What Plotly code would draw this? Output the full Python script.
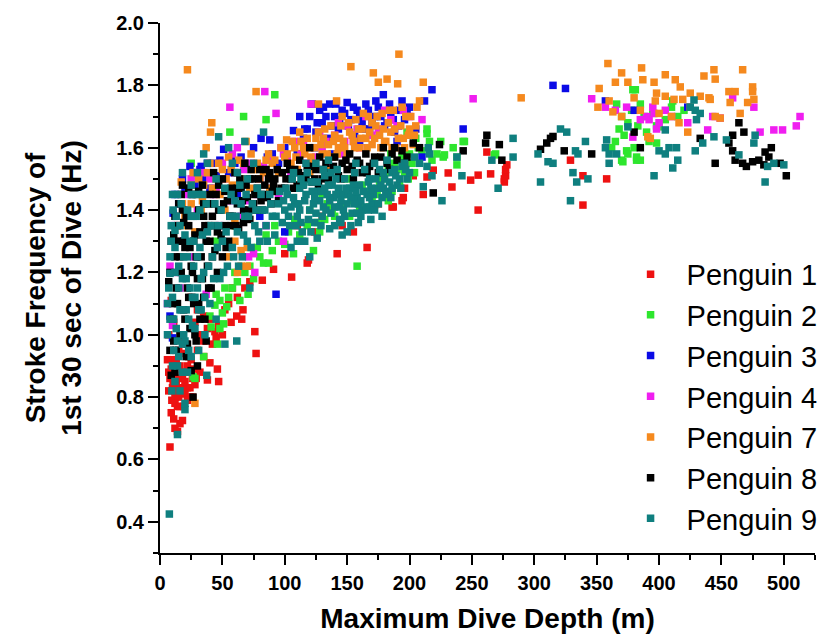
import plotly.graph_objects as go

# values (depth in m, stroke freq in Hz)
p1_depth = [8, 12, 14, 16, 18, 14, 9.5, 13.5, 18, 22, 28, 10.5, 9, 10.5, 12, 15, 17, 20, 24, 11,
            16, 20, 26, 7, 8, 13, 22, 19, 6, 9, 7, 11, 25, 30, 28, 33, 35, 38, 40, 46,
            38, 47, 42, 45, 44, 40, 47, 57, 61.5, 65.5, 66.5, 76, 77, 52, 58, 68, 82, 91, 105.5, 118,
            119, 124, 142, 146, 166, 175, 186, 195, 196, 203, 187, 194, 211, 214, 219, 231, 234, 249, 255, 255,
            262, 265, 276, 277, 277, 278, 276, 329, 339, 339, 358, 30, 25, 35, 50, 55, 62, 72, 100, 130,
            155, 110, 35, 32,
            10, 12, 14, 16, 18, 20, 22, 24, 26, 9, 11, 7, 13, 15, 17, 19, 21, 27, 29, 23]
p1_freq = [0.64, 0.70, 0.69, 0.715, 0.725, 0.77, 0.79, 0.82, 0.83, 0.83, 0.84, 0.85, 0.89, 0.92, 0.80, 0.80, 0.86, 0.81, 0.80, 0.87,
           0.90, 0.88, 0.86, 0.82, 0.86, 0.84, 0.79, 0.77, 0.92, 1.11, 1.00, 1.04, 0.92, 0.95, 1.04, 1.00, 0.98, 1.02, 0.91, 0.89,
           0.855, 0.85, 0.97, 0.99, 1.01, 1.05, 1.03, 1.04, 1.06, 1.05, 1.08, 1.01, 0.94, 1.08, 1.15, 1.15, 1.175, 1.21, 1.185, 1.23,
           1.24, 1.33, 1.26, 1.35, 1.28, 1.42, 1.41, 1.44, 1.47, 1.51, 1.41, 1.43, 1.45, 1.506, 1.528, 1.519, 1.474, 1.496, 1.512, 1.40,
           1.586, 1.516, 1.49, 1.51, 1.53, 1.545, 1.50, 1.56, 1.51, 1.416, 1.50, 1.08, 1.12, 1.06, 1.00, 1.10, 1.12, 1.17, 1.26, 1.38,
           1.33, 1.35, 0.93, 0.88,
           0.83, 0.78, 0.86, 0.77, 0.87, 0.85, 0.90, 0.83, 0.80, 0.75, 0.73, 0.88, 0.92, 0.95, 0.99, 0.94, 0.97, 0.89, 0.86, 0.93]

p2_depth = [26.5, 28, 35, 40, 41, 44, 48, 48, 51, 53.5, 46, 50, 55, 58, 62, 64, 70.6, 68, 75, 80,
            83, 87, 90, 95, 100, 107, 112, 118, 123, 128, 132, 138, 145, 152, 158, 160, 165, 170, 174, 178,
            183, 183, 188, 192, 196, 198, 200, 204, 207, 214, 214, 218, 225, 227, 228, 238, 238, 243, 244, 268,
            269, 130, 150, 185, 205, 56, 67, 85, 92, 25, 60, 45,
            362, 365, 366, 368, 370, 370, 371, 372, 374, 375, 375, 378, 379, 380, 381, 382, 382, 383, 385, 385,
            388, 390, 392, 395, 398, 398, 400, 405, 410, 411, 415, 420,
            103, 108, 114, 120, 126, 134, 140, 147, 155, 162, 168, 176, 181, 186, 190, 194, 199, 202, 210, 216,
            222, 235, 60, 72, 78, 85, 92, 52, 45]
p2_freq = [0.865, 0.86, 0.93, 1.06, 1.025, 1.095, 1.11, 1.02, 1.035, 1.09, 0.97, 1.07, 1.12, 1.15, 1.17, 1.11, 1.13, 1.20, 1.18, 1.25,
           1.23, 1.23, 1.27, 1.30, 1.29, 1.26, 1.32, 1.35, 1.27, 1.33, 1.37, 1.40, 1.42, 1.38, 1.22, 1.41, 1.46, 1.44, 1.45, 1.50,
           1.43, 1.53, 1.55, 1.48, 1.52, 1.65, 1.58, 1.52, 1.60, 1.66, 1.645, 1.56, 1.62, 1.57, 1.577, 1.57, 1.545, 1.62, 1.62, 1.577,
           1.58, 1.45, 1.50, 1.58, 1.63, 1.65, 1.70, 1.69, 1.77, 1.55, 1.35, 1.30,
           1.60, 1.62, 1.74, 1.66, 1.56, 1.70, 1.555, 1.64, 1.59, 1.68, 1.58, 1.72, 1.786, 1.60, 1.786, 1.56, 1.57, 1.67, 1.74, 1.56,
           1.70, 1.65, 1.62, 1.71, 1.615, 1.67, 1.667, 1.69, 1.73, 1.75, 1.70, 1.72,
           1.33, 1.37, 1.30, 1.40, 1.36, 1.42, 1.38, 1.45, 1.43, 1.48, 1.41, 1.48, 1.52, 1.46, 1.53, 1.57, 1.50, 1.55, 1.59, 1.62,
           1.58, 1.60, 1.20, 1.22, 1.28, 1.32, 1.35, 1.15, 1.13]

p3_depth = [8, 10, 10.5, 12, 15, 18, 24, 28, 32, 33, 34.5, 38, 45, 48, 51, 55, 60, 65, 70, 75,
            81, 86, 88, 93, 95, 100, 107, 110, 115, 118, 120, 125, 128, 130, 134, 136, 140, 143, 146, 150,
            153, 156, 158, 162, 165, 168, 172, 175, 179, 182, 185, 188, 192, 196, 200, 205, 210, 212, 218, 243,
            315, 325, 357, 423, 380, 22, 40, 62, 80, 100, 145, 160, 124, 138, 190,
            112, 116, 122, 126, 131, 133, 138, 141, 144, 148, 151, 155, 160, 163, 167, 170, 173, 177, 180, 184,
            187, 191, 194, 198, 20, 30, 42, 58, 68, 90]
p3_freq = [1.06, 0.99, 1.39, 1.45, 1.42, 1.50, 1.54, 1.48, 1.53, 1.54, 1.50, 1.55, 1.51, 1.56, 1.595, 1.52, 1.55, 1.57, 1.50, 1.60,
           1.63, 1.57, 1.625, 1.13, 1.55, 1.60, 1.655, 1.58, 1.63, 1.66, 1.70, 1.65, 1.72, 1.68, 1.63, 1.74, 1.70, 1.66, 1.72, 1.745,
           1.69, 1.64, 1.72, 1.68, 1.74, 1.66, 1.70, 1.73, 1.77, 1.68, 1.71, 1.65, 1.72, 1.69, 1.73, 1.66, 1.57, 1.75, 1.786, 1.66,
           1.80, 1.79, 1.75, 1.73, 1.72, 1.40, 1.47, 1.45, 1.38, 1.33, 1.60, 1.62, 1.60, 1.58, 1.62,
           1.70, 1.66, 1.74, 1.68, 1.73, 1.70, 1.67, 1.74, 1.69, 1.71, 1.67, 1.73, 1.70, 1.66, 1.72, 1.68, 1.75, 1.70, 1.67, 1.74,
           1.69, 1.67, 1.75, 1.71, 1.47, 1.52, 1.55, 1.57, 1.55, 1.58]

p4_depth = [6, 10, 14, 18, 22, 30, 37, 40, 45, 50, 56, 56, 60, 65, 69, 71, 75, 76, 80, 84,
            85, 90, 93, 95, 99, 99, 105, 110, 115, 118, 121, 125, 130, 135, 140, 145, 150, 155, 160, 165,
            175, 180, 190, 200, 210, 251, 346, 357, 365, 374, 379, 385, 390, 392, 395, 396, 398, 400, 405, 410,
            423, 439, 443, 449, 459, 476, 481, 492, 499, 510, 513, 27, 48, 62, 88,
            25, 35, 43, 52, 58, 67, 73, 78, 83, 97, 102, 108, 113, 128, 133, 143, 148, 158, 170, 185,
            195, 12, 16, 8]
p4_freq = [1.10, 1.03, 1.20, 1.30, 1.45, 1.40, 1.13, 1.50, 1.47, 1.55, 1.43, 1.73, 1.52, 1.38, 1.43, 1.25, 1.26, 1.20, 1.50, 1.78,
           1.35, 1.56, 1.71, 1.45, 1.30, 1.58, 1.52, 1.48, 1.62, 1.55, 1.74, 1.57, 1.60, 1.55, 1.64, 1.58, 1.67, 1.62, 1.60, 1.70,
           1.66, 1.72, 1.67, 1.70, 1.69, 1.757, 1.757, 1.73, 1.72, 1.73, 1.634, 1.69, 1.70, 1.69, 1.73, 1.71, 1.66, 1.68, 1.72, 1.70,
           1.68, 1.657, 1.70, 1.695, 1.76, 1.73, 1.65, 1.657, 1.657, 1.67, 1.70, 1.25, 1.35, 1.60, 1.47,
           1.50, 1.52, 1.45, 1.50, 1.58, 1.53, 1.55, 1.45, 1.54, 1.60, 1.57, 1.62, 1.58, 1.65, 1.62, 1.68, 1.62, 1.66, 1.64, 1.69,
           1.72, 1.35, 1.15, 1.22]

p7_depth = [12, 15, 17, 20, 22, 25, 26.5, 28, 30, 33, 35, 37, 40, 40.5, 41.5, 45, 48, 50, 52, 55,
            58, 60, 62, 65, 67, 69, 70, 72, 75, 77, 80, 85, 88, 90, 95, 100, 101.5, 105, 108, 110,
            113, 116, 120, 122, 125, 127, 130, 132, 135, 138, 140, 141.5, 143, 145, 147, 150, 152, 153, 155, 157,
            160, 162, 165, 167, 170, 171, 172, 173, 175, 176, 178, 180, 182, 183, 185, 187, 189, 190.5, 191.5, 193,
            195, 197, 200, 205, 206, 208, 211, 203, 110, 120, 135, 28, 65, 70,
            289.5, 351, 352, 359, 363, 365, 370, 375, 386, 387, 391, 393, 396, 397, 398, 405, 405, 412, 413, 416,
            417, 419, 423, 425, 425, 433, 436, 440, 441, 444, 445, 445, 449, 456, 457, 461, 465, 467, 471, 475,
            475, 476, 380, 370, 385, 400, 410, 360,
            102, 106, 109, 112, 115, 118, 121, 124, 127, 129, 131, 134, 137, 139, 142, 144, 146, 148, 151, 154,
            156, 159, 161, 163, 166, 168, 170, 172, 174, 177, 179, 181, 184, 186, 188, 191, 194, 196, 199, 201,
            204, 18, 22, 25, 31, 34, 38, 42, 47, 53, 57, 63, 68, 73, 78, 83, 87, 92, 97, 60,
            55, 62]
p7_freq = [1.30, 1.35, 1.49, 1.38, 1.85, 1.42, 1.52, 1.33, 1.45, 1.40, 1.48, 1.60, 1.55, 1.65, 1.68, 1.50, 1.45, 1.53, 1.40, 1.57,
           1.48, 1.36, 1.52, 1.27, 1.55, 1.62, 1.28, 1.47, 1.53, 1.78, 1.50, 1.56, 1.47, 1.55, 1.52, 1.57, 1.625, 1.55, 1.60, 1.53,
           1.62, 1.58, 1.60, 1.55, 1.63, 1.74, 1.58, 1.66, 1.61, 1.57, 1.64, 1.75, 1.60, 1.67, 1.62, 1.58, 1.65, 1.86, 1.62, 1.69,
           1.60, 1.66, 1.63, 1.70, 1.61, 1.84, 1.415, 1.67, 1.81, 1.64, 1.71, 1.62, 1.82, 1.68, 1.65, 1.72, 1.60, 1.805, 1.90, 1.67,
           1.63, 1.70, 1.66, 1.67, 1.73, 1.75, 1.81, 1.61, 1.48, 1.52, 1.53, 0.78, 1.22, 1.22,
           1.76, 1.73, 1.79, 1.87, 1.715, 1.81, 1.84, 1.81, 1.856, 1.818, 1.635, 1.63, 1.81, 1.75, 1.775, 1.834, 1.765, 1.755, 1.818, 1.68,
           1.795, 1.755, 1.65, 1.775, 1.73, 1.765, 1.83, 1.76, 1.755, 1.85, 1.82, 1.70, 1.695, 1.78, 1.745, 1.78, 1.71, 1.85, 1.745, 1.795,
           1.78, 1.755, 1.76, 1.70, 1.72, 1.71, 1.70, 1.75,
           1.58, 1.62, 1.57, 1.65, 1.60, 1.63, 1.57, 1.60, 1.65, 1.61, 1.63, 1.58, 1.67, 1.62, 1.58, 1.63, 1.70, 1.60, 1.68, 1.64,
           1.60, 1.66, 1.63, 1.71, 1.60, 1.65, 1.68, 1.63, 1.70, 1.60, 1.66, 1.62, 1.72, 1.60, 1.66, 1.63, 1.73, 1.60, 1.64, 1.70,
           1.64, 1.42, 1.35, 1.48, 1.50, 1.43, 1.52, 1.47, 1.55, 1.50, 1.53, 1.56, 1.50, 1.58, 1.55, 1.52, 1.58, 1.56, 1.60, 1.30,
           1.25, 1.20]

p8_depth = [7, 9, 10, 12, 13, 14, 15, 16, 17, 18, 19, 20, 21, 22, 23, 24, 25, 25, 26, 26.5,
            27, 28, 29, 30, 31, 32, 33, 34, 35, 36, 37, 38, 39, 40, 41, 42, 43, 44, 45, 46,
            48, 50, 50, 52, 54, 55, 57, 58, 60, 62, 63, 65, 67, 68, 70, 72, 74, 75, 78, 80,
            82, 84, 86, 88, 90, 92, 95, 98, 100, 102, 105, 108, 110, 112, 115, 118, 120, 122, 125, 128,
            130, 133, 136, 140, 143, 146, 150, 152, 155, 158, 162, 165, 168, 172, 175, 179, 182, 186, 190, 194,
            198, 203, 208, 219, 224, 243, 261, 262, 272, 274, 305, 310, 313, 315, 324, 346, 380, 385, 433, 445,
            456, 459, 459, 461, 464, 467, 468, 475, 480, 484, 485, 488, 497, 502, 470, 490, 8, 12, 22, 30,
            8, 10, 11, 13, 14, 16, 17, 19, 20, 21, 23, 24, 26, 27, 28, 29, 31, 32, 34, 35,
            36, 37, 39, 40, 42, 44, 46, 47, 49, 51, 53, 56, 59, 61, 64, 66, 69, 71, 73, 76,
            79, 83, 87, 91, 94, 97, 101, 104, 107, 111, 114, 117, 121, 124, 127, 131, 135, 139, 145, 149,
            154, 160, 166, 171, 177, 184, 188, 196, 12, 18, 9,
            11, 15, 19, 23, 27, 31, 35, 39, 43, 47, 52, 57, 62, 67, 72, 77, 81, 85, 89, 93]
p8_freq = [1.17, 0.87, 1.05, 1.25, 0.95, 1.10, 1.30, 1.00, 1.20, 1.40, 1.08, 1.28, 0.93, 1.15, 1.35, 1.02, 0.885, 1.22, 1.45, 0.80,
           1.10, 1.32, 0.98, 1.18, 1.40, 1.05, 1.25, 1.48, 1.12, 1.35, 0.98, 1.22, 1.42, 1.30, 1.15, 1.38, 1.52, 1.27, 1.45, 1.33,
           1.40, 1.25, 1.50, 1.35, 1.43, 1.30, 1.47, 1.38, 1.52, 1.42, 1.34, 1.47, 1.40, 1.55, 1.44, 1.37, 1.50, 1.42, 1.47, 1.53,
           1.40, 1.48, 1.44, 1.52, 1.46, 1.50, 1.43, 1.52, 1.47, 1.55, 1.50, 1.53, 1.48, 1.56, 1.51, 1.54, 1.60, 1.49, 1.53, 1.57,
           1.50, 1.55, 1.52, 1.57, 1.51, 1.55, 1.53, 1.58, 1.50, 1.56, 1.52, 1.58, 1.54, 1.57, 1.52, 1.60, 1.55, 1.58, 1.56, 1.59,
           1.57, 1.615, 1.60, 1.455, 1.61, 1.59, 1.615, 1.64, 1.61, 1.56, 1.595, 1.615, 1.63, 1.636, 1.59, 1.58, 1.65, 1.60, 1.63, 1.55,
           1.615, 1.64, 1.59, 1.56, 1.68, 1.55, 1.65, 1.555, 1.56, 1.545, 1.586, 1.57, 1.55, 1.51, 1.54, 1.60, 0.95, 0.88, 0.97, 0.90,
           1.20, 1.10, 0.98, 1.15, 1.35, 1.25, 1.45, 1.30, 1.05, 1.38, 1.12, 1.28, 1.20, 1.38, 1.00, 1.25, 1.10, 1.33, 1.18, 1.42,
           1.05, 1.30, 1.15, 1.45, 1.25, 1.35, 1.20, 1.48, 1.32, 1.42, 1.28, 1.38, 1.45, 1.35, 1.50, 1.43, 1.48, 1.40, 1.53, 1.45,
           1.50, 1.45, 1.50, 1.48, 1.53, 1.47, 1.50, 1.53, 1.47, 1.52, 1.48, 1.50, 1.54, 1.50, 1.48, 1.53, 1.50, 1.54, 1.50, 1.56,
           1.54, 1.55, 1.52, 1.55, 1.57, 1.53, 1.60, 1.55, 1.38, 1.48, 1.30,
           1.32, 1.42, 1.36, 1.47, 1.30, 1.46, 1.38, 1.35, 1.42, 1.40, 1.46, 1.35, 1.47, 1.36, 1.50, 1.40, 1.43, 1.53, 1.42, 1.46]

p9_depth = [7.5, 9.5, 14, 20, 20, 37.5, 52, 61.5, 8, 10, 11, 12, 13, 14, 15, 16, 17, 18, 19, 20,
            21, 22, 23, 24, 25, 26, 27, 28, 29, 30, 31, 32, 33, 34, 35, 36, 38, 40, 42, 44,
            45, 47, 48, 50, 52, 54, 56, 58, 60, 62, 64, 66, 68, 70, 72, 74, 76, 78, 80, 82,
            85, 88, 90, 92, 95, 98, 10.5, 12, 8, 6, 9, 14, 18, 25, 30, 38, 55, 75, 68, 58,
            35, 47, 83, 100, 102, 104, 106, 108, 110, 112, 114, 116, 118, 120, 122, 124, 126, 128, 130, 132,
            134, 136, 138, 140, 142, 144, 146, 148, 150, 152, 154, 156, 158, 160, 162, 164, 166, 168, 170, 172,
            174, 176, 178, 180, 183, 186, 190, 194, 198, 110, 116, 146, 159, 167, 182, 179, 125, 135, 105, 120,
            215, 214, 211, 226, 242, 216, 218, 271, 283, 283, 238, 266, 303, 311, 315, 321, 326, 305, 331, 334,
            329, 333, 335, 341, 343, 358, 357, 360, 360, 366, 375, 396, 400, 405, 405, 408, 414, 411, 415, 428,
            429, 430, 433, 425, 429, 435, 444, 454, 464, 477, 476, 487, 492, 500, 485,
            6, 7, 8, 9, 10, 11, 12, 13, 14, 15, 16, 17, 18, 19, 20, 21, 22, 23, 24, 25,
            26, 27, 28, 29, 30, 31, 32, 33, 34, 36, 37, 39, 41, 43, 46, 49, 51, 53, 57, 59,
            61, 63, 65, 67, 69, 71, 73, 77, 79, 81, 84, 86, 89, 93, 96, 99, 15, 18, 22, 12,
            16, 25, 10, 45, 62, 70, 103, 107, 111, 115, 119, 123, 127, 131, 135, 139, 143, 147, 151, 155,
            159, 163, 167, 171, 175, 179, 184, 188, 192, 196, 200, 204, 208, 113, 121, 129, 137, 145, 153, 161,
            169, 107, 117, 131, 141, 157,
            101, 105, 109, 113, 117, 121, 125, 129, 133, 137, 141, 145, 149, 153, 157, 161, 165, 169, 173, 177,
            181, 185, 189, 193, 197, 112, 124, 136, 148, 158, 172, 186, 132, 144, 156, 168, 178, 150, 140, 126]
p9_freq = [0.425, 0.82, 0.68, 0.76, 0.78, 0.87, 0.97, 0.98, 1.05, 1.12, 0.95, 1.20, 1.02, 0.90, 1.15, 1.35, 1.08, 0.88, 1.25, 0.98,
           1.18, 1.40, 1.05, 1.30, 0.93, 1.12, 1.22, 1.02, 1.38, 1.15, 0.95, 1.28, 1.08, 1.45, 1.20, 1.00, 1.33, 1.10, 1.25, 1.42,
           1.05, 1.35, 1.18, 1.30, 1.47, 1.22, 1.38, 1.28, 1.43, 1.33, 1.48, 1.25, 1.38, 1.30, 1.15, 1.42, 1.35, 1.47, 1.30, 1.40,
           1.35, 1.45, 1.38, 1.32, 1.42, 1.36, 1.40, 1.335, 1.197, 1.10, 1.30, 1.45, 1.52, 1.48, 1.52, 1.55, 1.60, 1.55, 1.62, 1.55,
           1.58, 1.635, 1.65, 1.40, 1.45, 1.35, 1.50, 1.42, 1.38, 1.47, 1.33, 1.43, 1.52, 1.40, 1.46, 1.36, 1.49, 1.43, 1.38, 1.51,
           1.45, 1.34, 1.48, 1.41, 1.53, 1.37, 1.45, 1.50, 1.42, 1.47, 1.39, 1.52, 1.44, 1.48, 1.40, 1.53, 1.45, 1.50, 1.42, 1.55,
           1.47, 1.53, 1.44, 1.50, 1.46, 1.52, 1.48, 1.54, 1.50, 1.30, 1.30, 1.32, 1.36, 1.40, 1.56, 1.47, 1.55, 1.56, 1.28, 1.25,
           1.60, 1.54, 1.475, 1.43, 1.51, 1.58, 1.51, 1.47, 1.63, 1.57, 1.57, 1.56, 1.58, 1.555, 1.55, 1.66, 1.65, 1.49, 1.52, 1.49,
           1.43, 1.59, 1.58, 1.62, 1.50, 1.625, 1.60, 1.58, 1.55, 1.58, 1.667, 1.51, 1.59, 1.58, 1.657, 1.60, 1.60, 1.535, 1.56, 1.753,
           1.72, 1.69, 1.71, 1.73, 1.59, 1.615, 1.635, 1.625, 1.577, 1.64, 1.615, 1.54, 1.55, 1.545, 1.49,
           1.00, 1.15, 1.25, 1.35, 0.90, 1.05, 1.28, 1.38, 0.98, 1.22, 1.08, 1.42, 1.18, 1.00, 1.32, 1.08, 1.25, 0.95, 1.15, 1.38,
           1.03, 1.30, 1.12, 1.45, 1.25, 1.08, 1.40, 1.18, 1.32, 1.12, 1.42, 1.22, 1.35, 1.18, 1.28, 1.40, 1.20, 1.33, 1.45, 1.25,
           1.38, 1.22, 1.42, 1.32, 1.45, 1.38, 1.28, 1.40, 1.33, 1.45, 1.40, 1.30, 1.42, 1.38, 1.46, 1.43, 0.93, 0.97, 0.88, 0.85,
           0.82, 1.45, 1.45, 1.50, 1.52, 1.50, 1.38, 1.44, 1.42, 1.48, 1.37, 1.42, 1.46, 1.41, 1.48, 1.44, 1.47, 1.40, 1.45, 1.48,
           1.42, 1.46, 1.49, 1.45, 1.42, 1.52, 1.49, 1.53, 1.50, 1.55, 1.52, 1.57, 1.55, 1.36, 1.33, 1.35, 1.39, 1.36, 1.35, 1.38,
           1.37, 1.52, 1.55, 1.53, 1.50, 1.55,
           1.47, 1.41, 1.35, 1.50, 1.45, 1.49, 1.39, 1.46, 1.40, 1.52, 1.45, 1.43, 1.47, 1.44, 1.46, 1.43, 1.41, 1.47, 1.50, 1.48,
           1.45, 1.44, 1.51, 1.47, 1.53, 1.40, 1.44, 1.43, 1.38, 1.39, 1.40, 1.47, 1.47, 1.41, 1.42, 1.44, 1.38, 1.33, 1.35, 1.31]

names = ["Penguin 1", "Penguin 2", "Penguin 3", "Penguin 4", "Penguin 7", "Penguin 8", "Penguin 9"]
colors = ["#ee1111", "#2ee62e", "#0a0ae6", "#f01ef0", "#f5891e", "#000000", "#0f7f7f"]
depths = [p1_depth, p2_depth, p3_depth, p4_depth, p7_depth, p8_depth, p9_depth]
freqs = [p1_freq, p2_freq, p3_freq, p4_freq, p7_freq, p8_freq, p9_freq]

x_tickvals = [0, 50, 100, 150, 200, 250, 300, 350, 400, 450, 500]
x_ticklabels = ["0", "50", "100", "150", "200", "250", "300", "350", "400", "450", "500"]
y_tickvals = [0.4, 0.6, 0.8, 1.0, 1.2, 1.4, 1.6, 1.8, 2.0]
y_ticklabels = ["0.4", "0.6", "0.8", "1.0", "1.2", "1.4", "1.6", "1.8", "2.0"]

fig = go.Figure()
for name, col, xs, ys in zip(names, colors, depths, freqs):
    assert len(xs) == len(ys), name
    fig.add_trace(go.Scatter(x=xs, y=ys, mode="markers", name=name,
                             marker=dict(symbol="square", size=7.5, color=col, line=dict(width=0))))

axis_common = dict(showline=True, linecolor="black", linewidth=2, mirror=False,
                   ticks="outside", ticklen=10, tickwidth=2, tickcolor="black",
                   showgrid=False, zeroline=False, tickmode="array", automargin=False,
                   tickfont=dict(family="Arial", size=20, color="black", weight=700))

fig.update_xaxes(range=[0, 525], tickvals=x_tickvals,
                 ticktext=["<b>%s</b>" % t for t in x_ticklabels], ticklabelstandoff=1,
                 minor=dict(tickmode="linear", tick0=0, dtick=25, ticks="outside",
                            ticklen=5, tickwidth=2, tickcolor="black"),
                 title=dict(text="<b>Maximum Dive Depth (m)</b>", standoff=15,
                            font=dict(family="Liberation Sans", size=28, color="black")),
                 **axis_common)
fig.update_yaxes(range=[0.3, 2.0], tickvals=y_tickvals,
                 ticktext=["<b>%s</b>" % t for t in y_ticklabels],
                 minor=dict(tickmode="linear", tick0=0.3, dtick=0.1, ticks="outside",
                            ticklen=5, tickwidth=2, tickcolor="black"),
                 title=dict(text="<b>Stroke Frequency of<br>1st 30 sec of Dive (Hz)</b>", standoff=26,
                            font=dict(family="Liberation Sans", size=28, color="black")),
                 **axis_common)

# page body adds an 8px margin, so the figure is sized a bit smaller than the window;
# autoexpand off so the legend hanging past the plot edge does not squeeze the axes
fig.update_layout(width=819, height=635,
                  margin=dict(l=152, r=12, t=15, b=90, autoexpand=False),
                  plot_bgcolor="white", paper_bgcolor="white",
                  legend=dict(x=0.694, y=0.574, xanchor="left", yanchor="top",
                              font=dict(family="Liberation Sans", size=29, color="black"),
                              bgcolor="rgba(0,0,0,0)", itemwidth=62, tracegroupgap=0))

fig.write_html("out.html")
